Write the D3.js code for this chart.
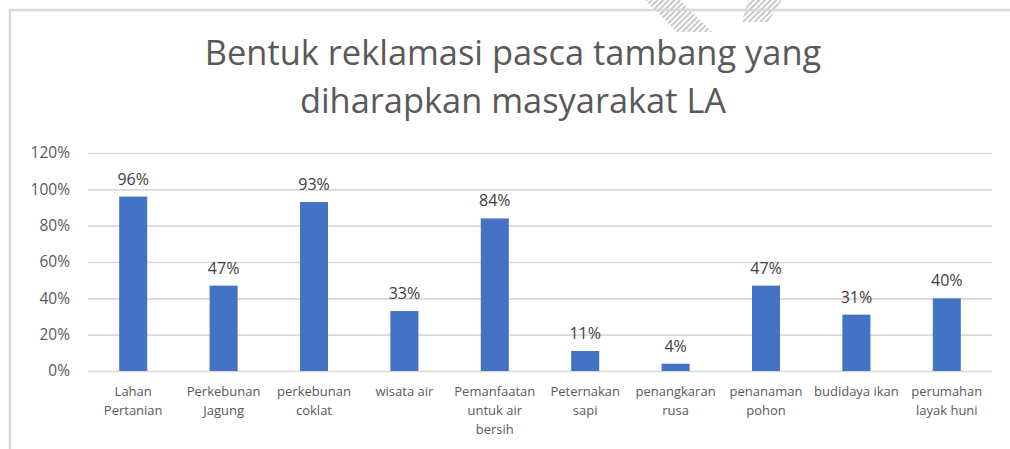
<!DOCTYPE html>
<html>
<head>
<meta charset="utf-8">
<script src="https://cdnjs.cloudflare.com/ajax/libs/d3/7.8.5/d3.min.js"></script>
<style>
  html, body { margin: 0; padding: 0; background: #fff; }
  svg { display: block; }
</style>
</head>
<body>
<svg id="chart" width="1010" height="449"></svg>
<script>
const titleLines = ['Bentuk reklamasi pasca tambang yang', 'diharapkan masyarakat LA'];
const categories = [
    'Lahan\nPertanian',
    'Perkebunan\nJagung',
    'perkebunan\ncoklat',
    'wisata air',
    'Pemanfaatan\nuntuk air\nbersih',
    'Peternakan\nsapi',
    'penangkaran\nrusa',
    'penanaman\npohon',
    'budidaya ikan',
    'perumahan\nlayak huni'
];
const values = [96, 47, 93, 33, 84, 11, 4, 47, 31, 40];
const yTicks = [0, 20, 40, 60, 80, 100, 120];

const svg = d3.select('#chart');
const font = '"Open Sans", "Noto Sans", sans-serif';

// faint watermark stripes peeking in at the top
const defs = svg.append('defs');
defs.append('pattern')
    .attr('id', 'hatch')
    .attr('width', 4).attr('height', 4)
    .attr('patternUnits', 'userSpaceOnUse')
    .attr('patternTransform', 'rotate(45)')
  .append('rect')
    .attr('width', 2).attr('height', 4)
    .attr('fill', '#c8c8c8');
[[645, 0, 680, 0, 712, 32, 677, 32], [748, 0, 782, 0, 768, 22, 742, 22]].forEach(p => {
    svg.append('polygon')
        .attr('points', d3.range(0, p.length, 2).map(i => p[i] + ',' + p[i + 1]).join(' '))
        .attr('fill', 'url(#hatch)');
});

// chart area border (runs off the picture on the right and bottom)
svg.append('rect')
    .attr('x', 10).attr('y', 10)
    .attr('width', 1100).attr('height', 500)
    .attr('fill', 'none')
    .attr('stroke', '#d9d9d9')
    .attr('stroke-width', 2.5);

const plot = { left: 88, right: 992, top: 153, bottom: 371 };

const x = d3.scaleBand()
    .domain(d3.range(categories.length))
    .range([plot.left, plot.right])
    .paddingInner(0.69)
    .paddingOuter(0.345);

const y = d3.scaleLinear()
    .domain([0, 120])
    .range([plot.bottom, plot.top]);

// title, fitted to the reference width
const title = svg.append('g')
    .attr('fill', '#595959')
    .style('font-family', font);
title.selectAll('text')
    .data(titleLines)
    .join('text')
    .attr('x', 513)
    .attr('y', (d, i) => 65 + i * 48)
    .attr('text-anchor', 'middle')
    .style('font-size', '31px')
    .text(d => d);
const firstLine = title.select('text').node();
const fitSize = Math.floor(31 * 617 / firstLine.getComputedTextLength() * 10) / 10;
title.selectAll('text').style('font-size', fitSize + 'px');

// gridlines + y labels
const yAxis = svg.append('g')
    .attr('transform', `translate(${plot.left},0)`)
    .call(d3.axisLeft(y)
        .tickValues(yTicks)
        .tickSize(-(plot.right - plot.left))
        .tickPadding(18)
        .tickFormat(d => d + '%'));
yAxis.select('.domain').remove();
yAxis.selectAll('.tick line')
    .attr('stroke', '#d9d9d9')
    .attr('stroke-width', 1.6);
yAxis.selectAll('.tick text')
    .attr('fill', '#595959')
    .style('font-family', font)
    .style('font-size', '15.5px');

// bars
svg.append('g')
    .selectAll('rect')
    .data(values)
    .join('rect')
    .attr('x', (d, i) => x(i))
    .attr('y', d => y(d))
    .attr('width', x.bandwidth())
    .attr('height', d => y(0) - y(d))
    .attr('fill', '#4472c4');

// value labels
svg.append('g')
    .selectAll('text')
    .data(values)
    .join('text')
    .attr('x', (d, i) => x(i) + x.bandwidth() / 2)
    .attr('y', d => y(d) - 12)
    .attr('text-anchor', 'middle')
    .attr('fill', '#404040')
    .style('font-family', font)
    .style('font-size', '16px')
    .text(d => d + '%');

// category labels, wrapped like the original
const catLabels = svg.append('g')
    .selectAll('text')
    .data(categories)
    .join('text')
    .attr('text-anchor', 'middle')
    .attr('fill', '#595959')
    .style('font-family', font)
    .style('font-size', '13px');
catLabels.each(function(d, i) {
    const cx = x(i) + x.bandwidth() / 2;
    d3.select(this).selectAll('tspan')
        .data(d.split('\n'))
        .join('tspan')
        .attr('x', cx)
        .attr('y', (line, j) => 396 + j * 19)
        .text(line => line);
});
</script>
</body>
</html>
